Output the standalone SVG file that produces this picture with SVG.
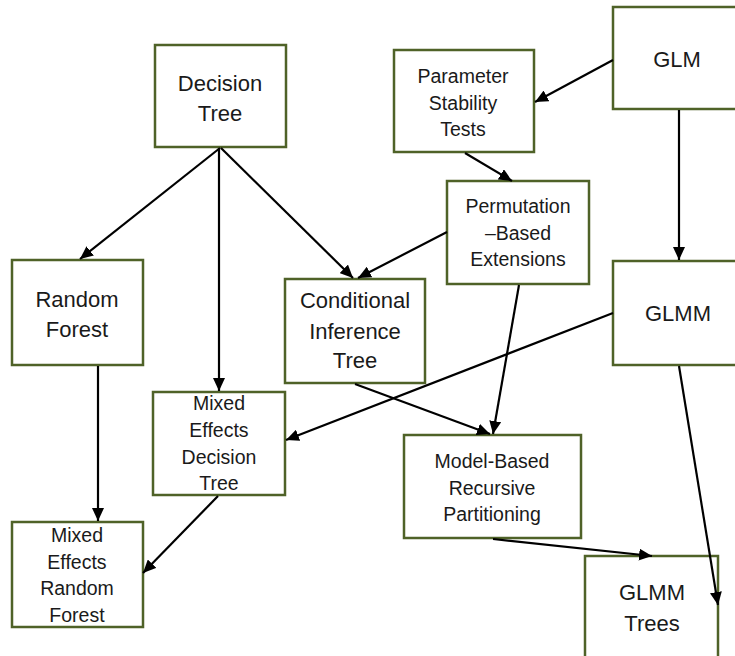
<svg xmlns="http://www.w3.org/2000/svg" width="735" height="656" viewBox="0 0 735 656">
  <defs>
    <marker id="arrow" markerUnits="userSpaceOnUse" markerWidth="14" markerHeight="12" refX="13" refY="6" orient="auto">
      <path d="M0,0 L13,6 L0,12 z" fill="#000"/>
    </marker>
    <style>
      .box { fill: #fff; stroke: #4f6228; stroke-width: 2.5; }
      .lg { font-family: "Liberation Sans", Arial, sans-serif; font-size: 22px; fill: #1a1a1a; text-anchor: middle; }
      .sm { font-family: "Liberation Sans", Arial, sans-serif; font-size: 19.5px; fill: #1a1a1a; text-anchor: middle; }
      .edge { stroke: #000; stroke-width: 2.2; fill: none; marker-end: url(#arrow); }
    </style>
  </defs>
  <rect width="735" height="656" fill="#fff"/>

  <g id="decision-tree">
    <rect class="box" x="155" y="45" width="131" height="102"/>
    <text class="lg" x="220" y="91">Decision</text>
    <text class="lg" x="220" y="121">Tree</text>
  </g>

  <g id="parameter-stability-tests">
    <rect class="box" x="394" y="50" width="140" height="102"/>
    <text class="sm" x="463" y="83">Parameter</text>
    <text class="sm" x="463" y="110">Stability</text>
    <text class="sm" x="463" y="136">Tests</text>
  </g>

  <g id="glm">
    <rect class="box" x="613" y="7" width="128" height="102"/>
    <text class="lg" x="677" y="67">GLM</text>
  </g>

  <g id="permutation-based-extensions">
    <rect class="box" x="447" y="181" width="142" height="103"/>
    <text class="sm" x="518" y="213">Permutation</text>
    <text class="sm" x="518" y="240">–Based</text>
    <text class="sm" x="518" y="266">Extensions</text>
  </g>

  <g id="random-forest">
    <rect class="box" x="12" y="260" width="131" height="105"/>
    <text class="lg" x="77" y="307">Random</text>
    <text class="lg" x="77" y="337">Forest</text>
  </g>

  <g id="conditional-inference-tree">
    <rect class="box" x="285" y="279" width="140" height="104"/>
    <text class="lg" x="355" y="308">Conditional</text>
    <text class="lg" x="355" y="339">Inference</text>
    <text class="lg" x="355" y="368">Tree</text>
  </g>

  <g id="glmm">
    <rect class="box" x="613" y="261" width="128" height="104"/>
    <text class="lg" x="678" y="321">GLMM</text>
  </g>

  <g id="mixed-effects-decision-tree">
    <rect class="box" x="153" y="392" width="132" height="103"/>
    <text class="sm" x="219" y="410">Mixed</text>
    <text class="sm" x="219" y="437">Effects</text>
    <text class="sm" x="219" y="464">Decision</text>
    <text class="sm" x="219" y="490">Tree</text>
  </g>

  <g id="model-based-recursive-partitioning">
    <rect class="box" x="404" y="435" width="177" height="103"/>
    <text class="sm" x="492" y="468">Model-Based</text>
    <text class="sm" x="492" y="495">Recursive</text>
    <text class="sm" x="492" y="521">Partitioning</text>
  </g>

  <g id="mixed-effects-random-forest">
    <rect class="box" x="12" y="522" width="131" height="105"/>
    <text class="sm" x="77" y="542">Mixed</text>
    <text class="sm" x="77" y="569">Effects</text>
    <text class="sm" x="77" y="595">Random</text>
    <text class="sm" x="77" y="622">Forest</text>
  </g>

  <g id="glmm-trees">
    <rect class="box" x="585" y="556" width="133" height="106"/>
    <text class="lg" x="652" y="600">GLMM</text>
    <text class="lg" x="652" y="631">Trees</text>
  </g>

  <!-- connectors drawn last so arrowheads sit on top of box borders -->
  <g id="connectors">
    <line class="edge" x1="613" y1="60" x2="535" y2="102"/>
    <line class="edge" x1="679" y1="110" x2="679" y2="260"/>
    <line class="edge" x1="465" y1="153" x2="512" y2="181"/>
    <line class="edge" x1="220" y1="148" x2="80" y2="259"/>
    <line class="edge" x1="219" y1="148" x2="219" y2="391"/>
    <line class="edge" x1="221" y1="148" x2="353" y2="278"/>
    <line class="edge" x1="447" y1="232" x2="358" y2="278"/>
    <line class="edge" x1="519" y1="285" x2="493" y2="434"/>
    <line class="edge" x1="355" y1="384" x2="490" y2="434"/>
    <line class="edge" x1="613" y1="313" x2="286" y2="440"/>
    <line class="edge" x1="98" y1="366" x2="98" y2="521"/>
    <line class="edge" x1="218" y1="496" x2="143" y2="573"/>
    <line class="edge" x1="493" y1="539" x2="652" y2="556"/>
    <line class="edge" x1="679" y1="366" x2="718" y2="605"/>
  </g>
</svg>
